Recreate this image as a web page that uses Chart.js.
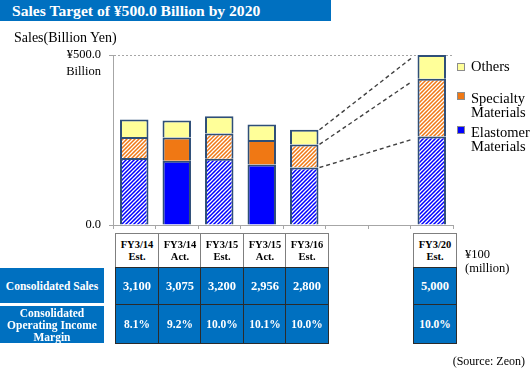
<!DOCTYPE html>
<html>
<head>
<meta charset="utf-8">
<script src="https://cdn.jsdelivr.net/npm/chart.js@4.4.0/dist/chart.umd.min.js"></script>
<style>
    body { margin: 0; background: #fff; font-family: 'Liberation Serif', 'Times New Roman', serif; }
    #wrap { position: relative; width: 530px; height: 368px; overflow: hidden; }
    #chart { position: absolute; left: 0; top: 0; }
    .abs { position: absolute; }
    #title {
        left: 0; top: 0; width: 331px; height: 21px; background: #0070C0; color: #fff;
        font-weight: bold; font-size: 15.6px; line-height: 21px; padding-left: 12px; box-sizing: border-box;
    }
    #ylabel { left: 14px; top: 30px; font-size: 14px; color: #000; }
    .leg { left: 457px; font-size: 14.5px; line-height: 14px; color: #000; }
    .leg i { position: absolute; left: 0; width: 8px; height: 8px; box-sizing: border-box; border: 1px solid #8c8c8c; }
    .leg span { position: absolute; left: 14px; top: 0; white-space: nowrap; }
    .cell { box-sizing: border-box; text-align: center; font-weight: bold; display: flex; align-items: center; justify-content: center; }
    .head { background: #fff; border: 1px solid #7f7f7f; color: #000; font-size: 10.5px; line-height: 12px; }
    .val { background: #0070C0; border: 1px solid #2b2b2b; color: #fff; }
    .rowlab { background: #0070C0; color: #fff; font-size: 11.5px; line-height: 12px; left: 0; width: 104px; }
    #unit { left: 465px; top: 247px; font-size: 12.5px; line-height: 14px; }
    #source { right: 5px; top: 354px; font-size: 12px; }
</style>
</head>
<body>
<div id="wrap">
    <canvas id="chart" width="530" height="368"></canvas>
    <div id="title" class="abs">Sales Target of ¥500.0 Billion by 2020</div>
    <div id="ylabel" class="abs">Sales(Billion Yen)</div>
    <div id="unit" class="abs">¥100<br>(million)</div>
    <div id="source" class="abs">(Source: Zeon)</div>
</div>
<script>
// Periods on the x axis (two empty slots before FY3/20)
const periods = ['FY3/14', 'FY3/14', 'FY3/15', 'FY3/15', 'FY3/16', '', '', 'FY3/20'];
const kinds = ['Est.', 'Act.', 'Est.', 'Act.', 'Est.', '', '', 'Est.'];

// Sales by segment, billion yen
const elastomer = [197, 189, 195, 178, 169, null, null, 260];
const specialty = [62, 68.5, 74, 72, 68, null, null, 170];
const others = [51, 50, 51, 45.6, 43, null, null, 70];

// Table rows
const salesRow = ['3,100', '3,075', '3,200', '2,956', '2,800', '', '', '5,000'];
const marginRow = ['8.1%', '9.2%', '10.0%', '10.1%', '10.0%', '', '', '10.0%'];

const yTicks = [0, 500];

const BLUE = '#0000FF';
const ORANGE = '#F07814';
const YELLOW = '#FFFF99';
const EDGE = '#2F4F78';

function hatch(color) {
    const c = document.createElement('canvas');
    c.width = 4; c.height = 4;
    const g = c.getContext('2d');
    g.fillStyle = color;
    g.fillRect(0, 0, 4, 4);
    g.strokeStyle = '#fff';
    g.lineWidth = 1.3;
    g.beginPath();
    g.moveTo(0, 4); g.lineTo(4, 0);
    g.moveTo(-1, 1); g.lineTo(1, -1);
    g.moveTo(3, 5); g.lineTo(5, 3);
    g.stroke();
    return g.createPattern(c, 'repeat');
}

const blueHatch = hatch(BLUE);
const orangeHatch = hatch(ORANGE);

// estimates are hatched, actuals solid
const isActual = kinds.map(k => k === 'Act.');

const labels = periods.map((p, i) => p ? p + ' ' + kinds[i] : '');

// dashed lines from FY3/16 Est. to FY3/20 Est.
const connectorPlugin = {
    id: 'connectors',
    afterDatasetsDraw(chart) {
        const ctx = chart.ctx;
        const from = 4, to = 7;
        ctx.save();
        ctx.strokeStyle = '#404040';
        ctx.lineWidth = 1.4;
        ctx.setLineDash([4, 3]);
        chart.data.datasets.forEach((ds, d) => {
            const meta = chart.getDatasetMeta(d);
            const a = meta.data[from], b = meta.data[to];
            ctx.beginPath();
            ctx.moveTo(a.x + a.width / 2 + 1, a.y);
            ctx.lineTo(b.x - b.width / 2 - 6, b.y + 3);
            ctx.stroke();
        });
        ctx.restore();
    }
};

const chart = new Chart(document.getElementById('chart'), {
    type: 'bar',
    data: {
        labels: labels,
        datasets: [{
            label: ['Elastomer', 'Materials'],
            data: elastomer,
            backgroundColor: isActual.map(a => a ? BLUE : blueHatch),
            legendColor: BLUE
        }, {
            label: ['Specialty', 'Materials'],
            data: specialty,
            backgroundColor: isActual.map(a => a ? ORANGE : orangeHatch),
            legendColor: ORANGE
        }, {
            label: ['Others'],
            data: others,
            backgroundColor: YELLOW,
            legendColor: YELLOW
        }].map(ds => Object.assign(ds, {
            borderColor: EDGE,
            borderWidth: 2,
            borderSkipped: 'bottom',
            barPercentage: 0.67,
            categoryPercentage: 1
        }))
    },
    options: {
        responsive: false,
        animation: false,
        layout: { padding: { top: 55, left: 0, right: 77, bottom: 138 } },
        plugins: { legend: { display: false }, tooltip: { enabled: false } },
        scales: {
            x: {
                stacked: true,
                offset: true,
                grid: { offset: true, drawOnChartArea: false, tickLength: 4, color: '#A6A6A6' },
                border: { color: '#A6A6A6', width: 1 },
                ticks: { display: false },
                afterFit: s => { s.height = 5; }
            },
            y: {
                stacked: true,
                min: yTicks[0],
                max: yTicks[1],
                afterBuildTicks: s => { s.ticks = yTicks.map(v => ({ value: v })); },
                ticks: {
                    padding: 8,
                    color: '#000',
                    font: { family: 'Liberation Serif', size: 12.5, lineHeight: 1.3 },
                    callback: v => v === 500 ? ['', '¥500.0', 'Billion'] : '0.0'
                },
                grid: {
                    tickLength: 4,
                    color: c => c.tick && c.tick.value === 500 ? '#A6A6A6' : 'rgba(0,0,0,0)',
                    tickColor: '#A6A6A6'
                },
                border: { color: '#A6A6A6', width: 1, dash: [2, 2] },
                afterFit: s => { s.width = 113; }
            }
        }
    },
    plugins: [connectorPlugin]
});

// Legend (top to bottom: Others, Specialty, Elastomer)
const wrap = document.getElementById('wrap');
const legendTops = [59, 91, 125];
chart.data.datasets.slice().reverse().forEach((ds, i) => {
    const el = document.createElement('div');
    el.className = 'abs leg';
    el.style.top = legendTops[i] + 'px';
    el.innerHTML = '<i style="top:' + (i === 0 ? 4 : 1) + 'px;background:' + ds.legendColor + '"></i><span>' + ds.label.join('<br>') + '</span>';
    wrap.appendChild(el);
});

// Table under the chart, columns follow the x scale
const xs = chart.scales.x;
const step = xs.getPixelForValue(1) - xs.getPixelForValue(0);
function addCell(cls, left, top, w, h, html, style) {
    const el = document.createElement('div');
    el.className = 'abs cell ' + cls;
    el.style.cssText = 'left:' + left + 'px;top:' + top + 'px;width:' + w + 'px;height:' + h + 'px;' + (style || '');
    el.innerHTML = html;
    wrap.appendChild(el);
}
periods.forEach((p, i) => {
    if (!p) return;
    const left = Math.round(xs.getPixelForValue(i) - step / 2) + 2;
    const w = Math.round(step) + 1;
    addCell('head', left, 233, w, 35, p + '<br>' + kinds[i]);
    addCell('val', left, 267, w, 38, salesRow[i], 'font-size:12.5px;');
    addCell('val', left, 304, w, 40, marginRow[i], 'font-size:11.5px;');
});
addCell('rowlab', 0, 268, 104, 35, 'Consolidated Sales');
addCell('rowlab', 0, 306, 104, 37, 'Consolidated<br>Operating Income<br>Margin');
</script>
</body>
</html>
